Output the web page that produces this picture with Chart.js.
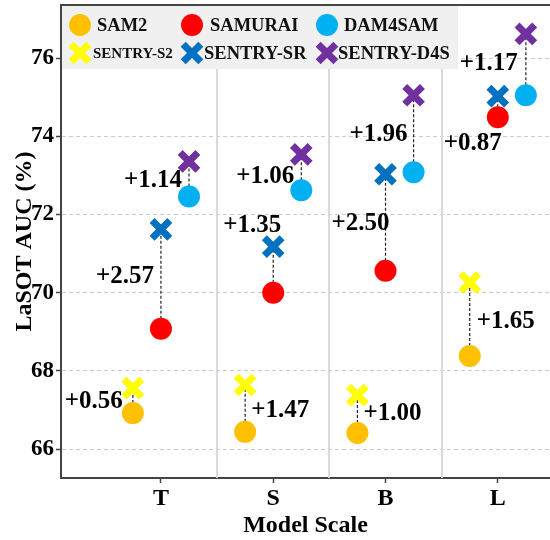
<!DOCTYPE html>
<html>
<head>
<meta charset="utf-8">
<script src="https://cdn.jsdelivr.net/npm/chart.js@4.4.0/dist/chart.umd.min.js"></script>
<style>
  html, body { margin: 0; padding: 0; background: #fff; }
  #wrap { width: 550px; height: 540px; }
</style>
</head>
<body>
<div id="wrap"><canvas id="chart"></canvas></div>
<script>
// Model scales and LaSOT AUC (%) per tracker
const modelScales = ['T', 'S', 'B', 'L'];
const sam2      = [66.92, 66.44, 66.41, 68.38];
const samurai   = [69.08, 70.00, 70.56, 74.49];
const dam4sam   = [72.46, 72.62, 73.08, 75.05];
const sentryS2  = [67.56, 67.64, 67.38, 70.26];
const sentrySR  = [71.62, 71.18, 73.03, 75.03];
const sentryD4S = [73.36, 73.54, 75.05, 76.62];
const gainS2  = ['+0.56', '+1.47', '+1.00', '+1.65'];
const gainSR  = ['+2.57', '+1.35', '+2.50', '+0.87'];
const gainD4S = ['+1.14', '+1.06', '+1.96', '+1.17'];
const yTicks = [66, 68, 70, 72, 74, 76];

const SERIF = '"Liberation Serif", "Times New Roman", serif';
const shift = { left: -0.25, mid: 0, right: 0.25 };

const pts = (vals, dx) => vals.map((v, i) => ({ x: i + dx, y: v }));
const pairs = (base, top, dx) => base.flatMap((v, i) => [
    { x: i + dx, y: v }, { x: i + dx, y: top[i] }, { x: i + dx, y: null }
]);

const circle = (label, data, dx, color) => ({
    label, data: pts(data, dx), order: 1,
    pointStyle: 'circle', pointRadius: 11, pointBorderWidth: 0,
    pointBackgroundColor: color, backgroundColor: color, borderColor: color
});
const cross = (label, data, dx, color, fontSize) => ({
    label, data: pts(data, dx), order: 0, legendFont: fontSize,
    pointStyle: 'crossRot', pointRadius: 12.5, pointBorderWidth: 7,
    pointBackgroundColor: color, pointBorderColor: color, backgroundColor: color, borderColor: color
});
const connector = (base, top, dx) => ({
    label: '', data: pairs(base, top, dx), order: 5,
    showLine: true, spanGaps: false, pointRadius: 0,
    borderColor: '#222', borderWidth: 1.2, borderDash: [3, 2]
});

// label placement: nudge (px) from the SENTRY point, text alignment
const labelPlacement = [
    { ds: 3, text: gainS2,  nudge: [[-10, 11, 'right'], [6, 24, 'left'], [6, 16, 'left'], [7, 37, 'left']] },
    { ds: 4, text: gainSR,  nudge: [[-7, 45, 'right'], [8, -23, 'right'], [4, 47, 'right'], [4, 45, 'right']] },
    { ds: 5, text: gainD4S, nudge: [[-7, 17, 'right'], [-7, 20, 'right'], [-6, 37, 'right'], [-8, 28, 'right']] }
];

const noPad = s => { s.paddingLeft = 0; s.paddingRight = 0; s.paddingTop = 0; s.paddingBottom = 0; };

const chartFrame = {
    id: 'chartFrame',
    beforeDatasetsDraw(chart) {
        const { ctx, chartArea: a, scales: { x } } = chart;
        ctx.save();
        // category separators
        ctx.strokeStyle = '#dadada';
        ctx.lineWidth = 2;
        [0.5, 1.5, 2.5].forEach(b => {
            const px = Math.round(x.getPixelForValue(b));
            ctx.beginPath(); ctx.moveTo(px, a.top); ctx.lineTo(px, a.bottom); ctx.stroke();
        });
        // top border
        ctx.strokeStyle = '#444';
        ctx.beginPath(); ctx.moveTo(a.left, a.top); ctx.lineTo(a.right, a.top); ctx.stroke();
        ctx.restore();
    },
    afterDatasetsDraw(chart) {
        const { ctx, chartArea: a } = chart;
        ctx.save();
        // gain labels
        ctx.fillStyle = '#000';
        ctx.font = 'bold 25px ' + SERIF;
        ctx.textBaseline = 'alphabetic';
        labelPlacement.forEach(p => {
            const meta = chart.getDatasetMeta(p.ds);
            meta.data.forEach((el, i) => {
                const [dx, dy, align] = p.nudge[i];
                ctx.textAlign = align;
                ctx.fillText(p.text[i], el.x + dx, el.y + dy + 8.5);
            });
        });

        // legend box
        ctx.fillStyle = '#f0f0f0';
        ctx.fillRect(a.left + 1, a.top + 1, 396, 63);
        const colX = [19, 131, 266];
        const textX = [[36, 149, 283], [32, 143, 277]];
        const rowY = [20, 48];
        chart.data.datasets.slice(0, 6).forEach((ds, i) => {
            const row = Math.floor(i / 3), col = i % 3;
            const cx = a.left + colX[col], cy = a.top + rowY[row];
            const color = ds.backgroundColor;
            if (ds.pointStyle === 'circle') {
                ctx.fillStyle = color;
                ctx.beginPath(); ctx.arc(cx, cy, 11, 0, Math.PI * 2); ctx.fill();
            } else {
                ctx.strokeStyle = color;
                ctx.lineWidth = 7;
                const o = 12.5 * Math.SQRT1_2;
                ctx.beginPath();
                ctx.moveTo(cx - o, cy - o); ctx.lineTo(cx + o, cy + o);
                ctx.moveTo(cx + o, cy - o); ctx.lineTo(cx - o, cy + o);
                ctx.stroke();
            }
            const fs = ds.legendFont || 18.5;
            ctx.fillStyle = '#111';
            ctx.font = 'bold ' + fs + 'px ' + SERIF;
            ctx.textAlign = 'left';
            ctx.fillText(ds.label, a.left + textX[row][col], cy + fs * 0.33);
        });
        ctx.restore();
    }
};

new Chart(document.getElementById('chart'), {
    type: 'scatter',
    data: {
        datasets: [
            circle('SAM2', sam2, shift.left, '#FFC000'),
            circle('SAMURAI', samurai, shift.mid, '#FF0000'),
            circle('DAM4SAM', dam4sam, shift.right, '#00B0F0'),
            cross('SENTRY-S2', sentryS2, shift.left, '#FFFF00', 15),
            cross('SENTRY-SR', sentrySR, shift.mid, '#0070C0'),
            cross('SENTRY-D4S', sentryD4S, shift.right, '#7030A0'),
            connector(sam2, sentryS2, shift.left),
            connector(samurai, sentrySR, shift.mid),
            connector(dam4sam, sentryD4S, shift.right)
        ]
    },
    options: {
        responsive: true,
        maintainAspectRatio: false,
        animation: false,
        layout: { autoPadding: false, padding: { top: 5, right: 0, left: 0, bottom: 0 } },
        plugins: { legend: { display: false }, tooltip: { enabled: false } },
        scales: {
            x: {
                type: 'linear', min: -0.89, max: 3.465,
                afterBuildTicks: s => { s.ticks = modelScales.map((_, i) => ({ value: i })); },
                afterFit: s => { s.height = 62; noPad(s); },
                ticks: {
                    callback: v => modelScales[v],
                    color: '#000', padding: 1,
                    font: { family: SERIF, size: 24, weight: 'bold' }
                },
                grid: { drawOnChartArea: false, tickLength: 5, tickColor: '#444', tickWidth: 1.5 },
                border: { color: '#444', width: 2 },
                title: {
                    display: true, text: 'Model Scale', color: '#000',
                    padding: { top: 0, bottom: 0 },
                    font: { family: SERIF, size: 24, weight: 'bold' }
                }
            },
            y: {
                min: 65.26, max: 77.36,
                afterBuildTicks: s => { s.ticks = yTicks.map(v => ({ value: v })); },
                afterFit: s => { s.width = 61; noPad(s); },
                ticks: {
                    color: '#000', padding: 2,
                    font: { family: SERIF, size: 23, weight: 'bold' }
                },
                grid: { color: '#cccccc', lineWidth: 1, tickLength: 5, tickColor: '#444', tickWidth: 1.5 },
                border: { color: '#444', width: 2, dash: [4, 3] },
                title: {
                    display: true, text: 'LaSOT AUC (%)', color: '#000',
                    padding: { top: 10, bottom: 0 },
                    font: { family: SERIF, size: 24, weight: 'bold' }
                }
            }
        }
    },
    plugins: [chartFrame]
});
</script>
</body>
</html>
